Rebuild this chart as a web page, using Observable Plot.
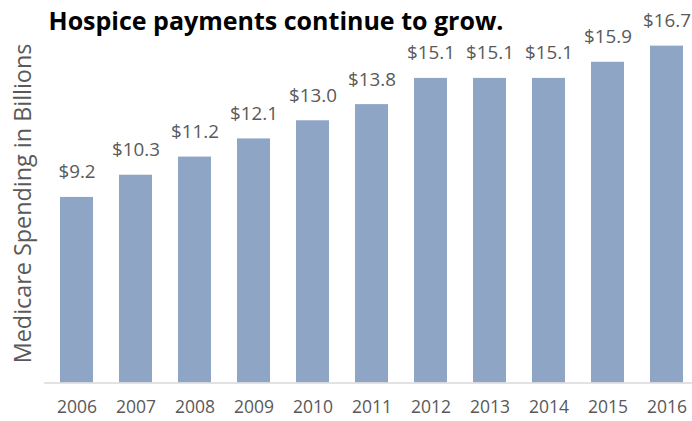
<!DOCTYPE html>
<html>
<head>
<meta charset="utf-8">
<script src="https://cdn.jsdelivr.net/npm/d3@7"></script>
<script src="https://cdn.jsdelivr.net/npm/@observablehq/plot@0.6"></script>
<style>
  html, body { margin: 0; padding: 0; background: #fff; }
  #chart { position: relative; width: 692px; height: 421px; }
</style>
</head>
<body>
<div id="chart"></div>
<script>
const years = ["2006","2007","2008","2009","2010","2011","2012","2013","2014","2015","2016"];
const spending = [9.2, 10.3, 11.2, 12.1, 13.0, 13.8, 15.1, 15.1, 15.1, 15.9, 16.7];
const title = "Hospice payments continue to grow.";
const yLabel = "Medicare Spending in Billions";

const data = years.map((y, i) => ({year: y, value: spending[i]}));
const fontName = "'Open Sans', 'Noto Sans', sans-serif";
const gray = "#595959";

// fit font size so the text has a target width
function fitSize(text, weight, targetWidth) {
  const ctx = document.createElement("canvas").getContext("2d");
  ctx.font = `${weight} 20px ${fontName}`;
  const w = ctx.measureText(text).width;
  return 20 * targetWidth / w;
}
const titleSize = fitSize(title, "bold", 455);
const yLabelSize = fitSize(yLabel, "normal", 320);

const chart = Plot.plot({
  width: 692,
  height: 421,
  marginLeft: 50,
  marginRight: 0,
  marginTop: 19.4,
  marginBottom: 38.5,
  style: {fontFamily: fontName, background: "#fff"},
  x: {domain: years, paddingInner: 0.445, paddingOuter: 0.118, label: null},
  y: {domain: [0, 18], axis: null},
  marks: [
    Plot.barY(data, {x: "year", y: "value", fill: "#8EA5C5"}),
    Plot.ruleY([0], {stroke: "#D9D9D9", strokeWidth: 1.3, insetLeft: -6}),
    Plot.text(data, {x: "year", y: "value", text: d => "$" + d.value.toFixed(1), dy: -25, fill: gray, fontSize: 18.8}),
    Plot.axisX({tickSize: 0, tickPadding: 17.5, fontSize: 17.5, color: gray, label: null}),
    Plot.text([yLabel], {frameAnchor: "left", rotate: -90, dx: -27.4, dy: 2, fill: gray, fontSize: yLabelSize, lineAnchor: "middle", textAnchor: "middle"}),
    Plot.text([title], {frameAnchor: "top-left", dx: -2, dy: 29.3 - 19.4 - 0.32 * titleSize, lineAnchor: "middle", textAnchor: "start", fontSize: titleSize, fontWeight: "bold", fill: "#000"})
  ]
});
document.getElementById("chart").appendChild(chart);
</script>
</body>
</html>
